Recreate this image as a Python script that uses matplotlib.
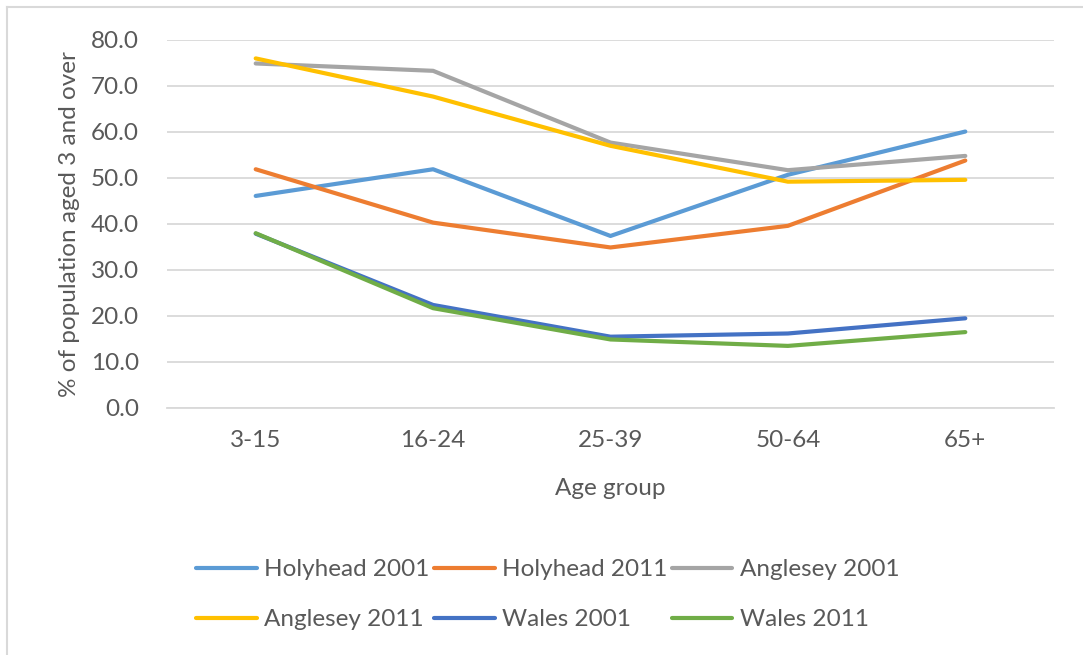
import matplotlib
matplotlib.use("Agg")
import matplotlib.pyplot as plt
from matplotlib.lines import Line2D
from matplotlib.ticker import FormatStrFormatter

# data
age_groups = ["3-15", "16-24", "25-39", "50-64", "65+"]
holyhead_2001 = [46.1, 51.9, 37.4, 50.7, 60.1]
holyhead_2011 = [51.9, 40.3, 34.9, 39.6, 53.8]
anglesey_2001 = [74.9, 73.3, 57.7, 51.7, 54.8]
anglesey_2011 = [76.0, 67.7, 57.0, 49.2, 49.6]
wales_2001 = [37.9, 22.4, 15.5, 16.2, 19.5]
wales_2011 = [38.0, 21.7, 14.9, 13.5, 16.5]

series_names = ["Holyhead 2001", "Holyhead 2011", "Anglesey 2001",
                "Anglesey 2011", "Wales 2001", "Wales 2011"]
series_vals = [holyhead_2001, holyhead_2011, anglesey_2001,
               anglesey_2011, wales_2001, wales_2011]
colors = ["#5B9BD5", "#ED7D31", "#A5A5A5", "#FFC000", "#4472C4", "#70AD47"]

plt.rcParams['font.family'] = ['Lato', 'DejaVu Sans']
TXT = "#595959"

fig = plt.figure(figsize=(10.83, 6.55), dpi=100)
ax = fig.add_axes([167/1083, 1-408/655, (1054-167)/1083, 368/655])

x = list(range(len(age_groups)))
handles = []
for name, vals, c in zip(series_names, series_vals, colors):
    h, = ax.plot(x, vals, color=c, lw=3.0, solid_capstyle='round',
                 solid_joinstyle='round', label=name)
    handles.append(h)

ax.set_xlim(-0.5, len(age_groups) - 0.5)
ax.set_ylim(0, 80)
ax.set_yticks(range(0, 81, 10))
ax.yaxis.set_major_formatter(FormatStrFormatter('%.1f'))
ax.set_xticks(x)
ax.set_xticklabels(age_groups)
ax.grid(axis='y', color='#d9d9d9', lw=1.3)
ax.set_axisbelow(True)
for s in ['top', 'right', 'left']:
    ax.spines[s].set_visible(False)
ax.spines['bottom'].set_color('#d9d9d9')
ax.spines['bottom'].set_linewidth(1.3)
ax.tick_params(length=0, labelsize=17.5, colors=TXT)
ax.tick_params(axis='y', pad=20)
ax.tick_params(axis='x', pad=16)

ax.set_xlabel("Age group", fontsize=17.5, color=TXT, labelpad=19)
ax.set_ylabel("% of population aged 3 and over", fontsize=17.5, color=TXT, labelpad=8)

# Excel fills legend row-wise, matplotlib column-wise
order = [0, 3, 1, 4, 2, 5]
fig.legend([handles[i] for i in order], [series_names[i] for i in order],
           ncol=3, loc='upper left', bbox_to_anchor=(196/1083, 1-559/655),
           frameon=False, fontsize=17.5, labelcolor=TXT,
           handlelength=2.5, handletextpad=0.3, columnspacing=0.18,
           labelspacing=1.2, borderpad=0, borderaxespad=0)

# chart border (left and top edges visible)
fig.add_artist(Line2D([7/1083, 7/1083], [0, 1-7/655], color='#d9d9d9', lw=1.5))
fig.add_artist(Line2D([7/1083, 1], [1-7/655, 1-7/655], color='#d9d9d9', lw=1.5))

fig.savefig("out.png", dpi=100)
